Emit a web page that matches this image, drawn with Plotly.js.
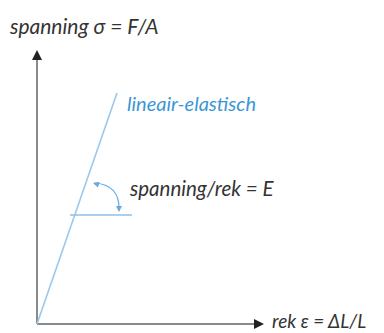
<!DOCTYPE html>
<html><head><meta charset="utf-8">
<script src="https://cdn.plot.ly/plotly-3.0.1.min.js"></script>
<style>html,body{margin:0;padding:0;background:#fff}#c{width:384px;height:333px}</style>
</head><body><div id="c"></div>
<script>
// Stress-strain schematic (data units, origin at axes intersection)
const lineX = [0, 80];          // strain
const lineY = [0, 231];         // stress
const refX = [33, 95];          // horizontal reference line
const refY = [109, 109];
const yAxisX = [0, 0], yAxisY = [0, 270];
const xAxisX = [0, 223], xAxisY = [0, 0];
const labels = {
  yTitle: "spanning σ = F/A",
  xTitle: "rek ε = ΔL/L",
  line: "lineair-elastisch",
  slope: "spanning/rek = E"
};

const txt = '#333333', axisCol = '#8a8a8a', blue = '#3d96d6', lightBlue = '#9cc8ec', arcCol = '#6aa8de';
const fam = 'Lato, sans-serif';

const traces = [
  {x: yAxisX, y: yAxisY, mode: 'lines', line: {color: axisCol, width: 2}, hoverinfo: 'skip'},
  {x: xAxisX, y: xAxisY, mode: 'lines', line: {color: axisCol, width: 2}, hoverinfo: 'skip'},
  {x: lineX, y: lineY, mode: 'lines', line: {color: lightBlue, width: 1.6}, hoverinfo: 'skip'},
  {x: refX, y: refY, mode: 'lines', line: {color: '#8fbfe6', width: 1.5}, hoverinfo: 'skip'}
];

const annotations = [
  // axis arrowheads
  {x: 0, y: 274, ax: 0, ay: 8, xref: 'x', yref: 'y', showarrow: true,
   arrowhead: 2, arrowsize: 1, arrowwidth: 2, arrowcolor: '#222', text: ''},
  {x: 227, y: 0, ax: -8, ay: 0, xref: 'x', yref: 'y', showarrow: true,
   arrowhead: 2, arrowsize: 1, arrowwidth: 2, arrowcolor: '#222', text: ''},
  // arc arrowheads
  {x: 56, y: 141, ax: 7, ay: 2, xref: 'x', yref: 'y', showarrow: true, arrowhead: 2,
   arrowsize: 1, arrowwidth: 1.2, arrowcolor: arcCol, text: ''},
  {x: 82, y: 112, ax: 0, ay: -7, xref: 'x', yref: 'y', showarrow: true, arrowhead: 2,
   arrowsize: 1, arrowwidth: 1.2, arrowcolor: arcCol, text: ''},
  {x: -30, y: 299, xref: 'x', yref: 'y', xanchor: 'left', yanchor: 'middle', showarrow: false,
   text: '<i>' + labels.yTitle + '</i>', font: {family: fam, size: 21, color: txt}},
  {x: 234, y: 4, xref: 'x', yref: 'y', xanchor: 'left', yanchor: 'middle', showarrow: false,
   borderpad: 0,
   text: '<i>' + labels.xTitle + '</i>', font: {family: fam, size: 19, color: txt}},
  {x: 88, y: 221, xref: 'x', yref: 'y', xanchor: 'left', yanchor: 'middle', showarrow: false,
   text: '<i>' + labels.line + '</i>', font: {family: fam, size: 20, color: blue}},
  {x: 90, y: 136, xref: 'x', yref: 'y', xanchor: 'left', yanchor: 'middle', showarrow: false,
   text: '<i>' + labels.slope + '</i>', font: {family: fam, size: 20.5, color: txt}}
];

const shapes = [
  {type: 'path', xref: 'x', yref: 'y', path: 'M 58 141 Q 83 139 82 114',
   line: {color: arcCol, width: 1.2}}
];

const layout = {
  width: 384, height: 333,
  margin: {l: 0, r: 0, t: 0, b: 0},
  paper_bgcolor: '#fff', plot_bgcolor: '#fff',
  showlegend: false,
  xaxis: {range: [-37, 347], visible: false, fixedrange: true},
  yaxis: {range: [-9, 324], visible: false, fixedrange: true},
  annotations: annotations, shapes: shapes
};
Plotly.newPlot('c', traces, layout, {displayModeBar: false, staticPlot: true});
</script></body></html>
